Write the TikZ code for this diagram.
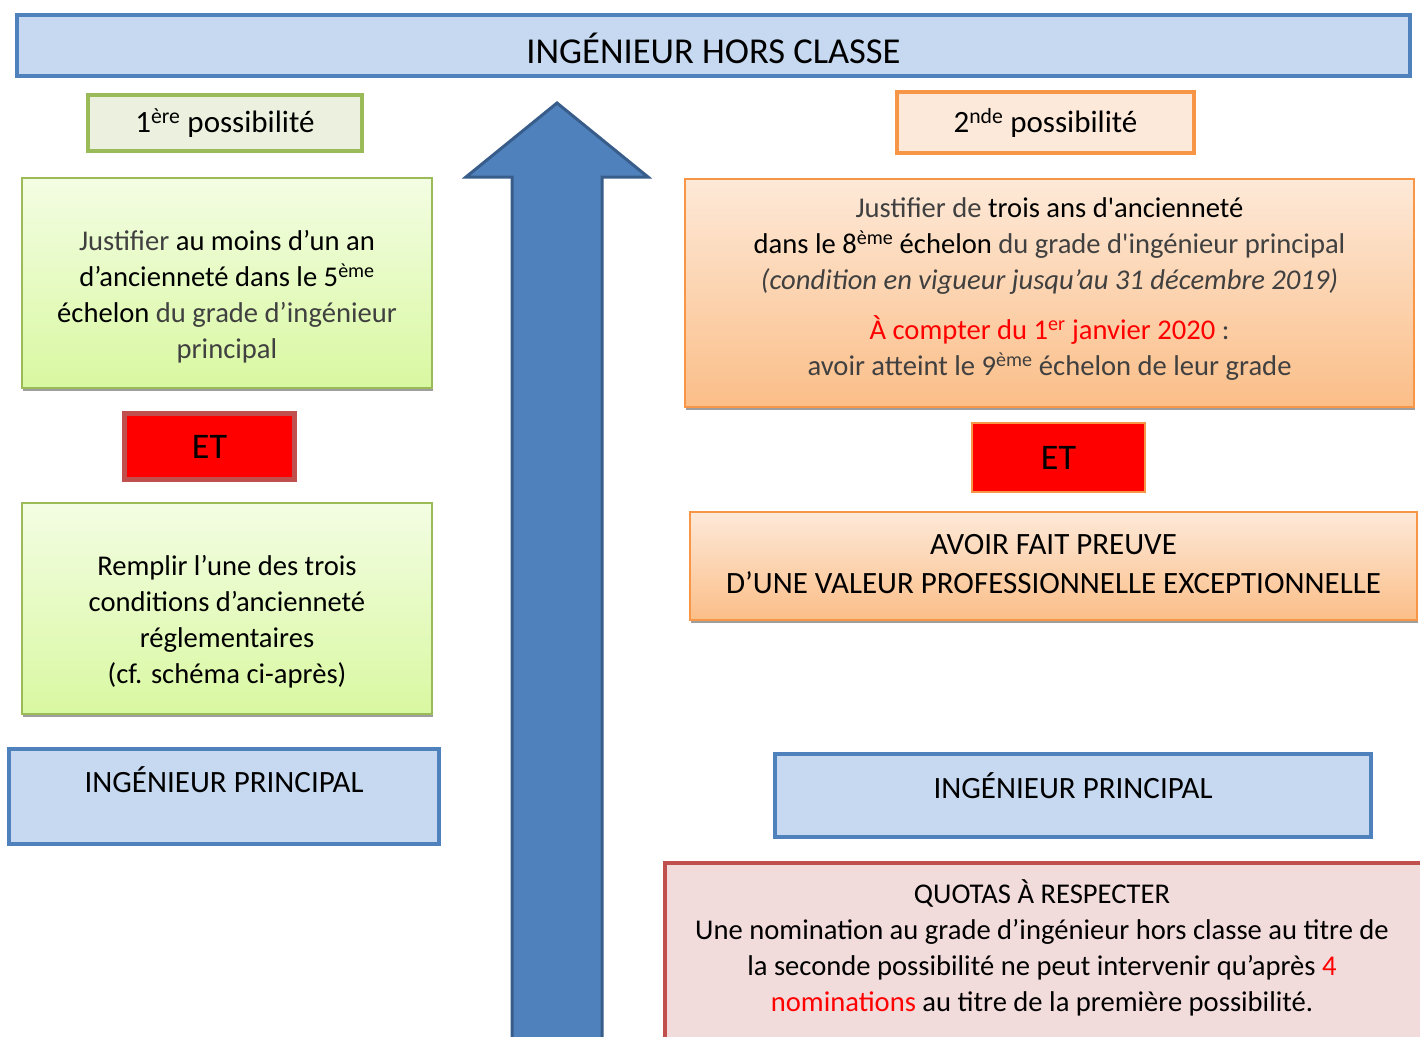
\documentclass[tikz,border=0pt]{standalone}
\usepackage{fontspec}
\setmainfont{Carlito}[Ligatures=TeXOff]
\usetikzlibrary{shadows}
\definecolor{hcblue}{HTML}{4F81BD}
\definecolor{hcfill}{HTML}{C6D9F1}
\definecolor{grn}{HTML}{9BBB59}
\definecolor{grnfill}{HTML}{EBF1DE}
\definecolor{org}{HTML}{F79646}
\definecolor{orgfill}{HTML}{FDE9D9}
\definecolor{redb}{HTML}{C0504D}
\definecolor{pinkfill}{HTML}{F2DCDB}
\definecolor{arrowedge}{HTML}{385D8A}
\definecolor{lgtop}{HTML}{F3FDE3}
\definecolor{lgbot}{HTML}{D9F8A1}
\definecolor{ogtop}{HTML}{FDE9D8}
\definecolor{ogbot}{HTML}{FBBE88}
\definecolor{lighttxt}{HTML}{404040}
\newcommand{\lt}[1]{{\color{lighttxt}#1}}
\begin{document}
\begin{tikzpicture}[x=1pt,y=-1pt,
  box/.style={rectangle, inner sep=0pt, align=center},
  bluebox/.style={box, draw=hcblue, fill=hcfill, line width=4pt},
  titlefont/.style={font=\fontsize{31}{37}\selectfont},
  bodyfont/.style={font=\fontsize{28.6}{36}\selectfont},
  shad/.style={drop shadow={shadow xshift=1pt, shadow yshift=-3pt, fill=black!38, opacity=1}},
  greenbox/.style={box, draw=grn, line width=1.5pt, top color=lgtop, bottom color=lgbot, shad},
  orangebox/.style={box, draw=org, line width=1.5pt, top color=ogtop, bottom color=ogbot, shad},
  etbox/.style={box, fill=red, font=\fontsize{36}{40}\selectfont}
]
\useasboundingbox (0,0) rectangle (1420,1036);

% top
\node[bluebox, minimum width=1393pt, minimum height=61pt] (top) at (713.5,45.5) {};
\node[box, font=\fontsize{36.5}{40}\selectfont] (topt) at (713.5,48.5) {INGÉNIEUR HORS CLASSE};

% possibilities
\node[box, draw=grn, fill=grnfill, line width=4pt, minimum width=274pt, minimum height=56pt, titlefont] (p1) at (225,123) {1\textsuperscript{ère} possibilité};
\node[box, draw=org, fill=orgfill, line width=4pt, minimum width=297pt, minimum height=61pt, titlefont] (p2) at (1045.5,122.5) {2\textsuperscript{nde} possibilité};

% left column
\node[greenbox, minimum width=410pt, minimum height=210pt] (g1) at (227,283) {};
\node[box, bodyfont] (g1t) at (227,297)
  {\lt{Justifier} au moins d’un an\\ d’ancienneté dans le 5\textsuperscript{ème}\\ échelon \lt{du grade d’ingénieur}\\ \lt{principal}};
\node[etbox, draw=redb, line width=5pt, minimum width=170pt, minimum height=66pt] (etL) at (209.5,446.5) {ET};
\node[greenbox, minimum width=410pt, minimum height=211pt] (g2) at (227,608.5) {};
\node[box, bodyfont] (g2t) at (227,622)
  {Remplir l’une des trois\\ conditions d’ancienneté\\ réglementaires\\ (cf. schéma ci-après)};
\node[bluebox, minimum width=430pt, minimum height=95pt] (ipL) at (224,796.5) {};
\node[box, titlefont] (ipLt) at (224,780) {INGÉNIEUR PRINCIPAL};

% right column
\node[orangebox, minimum width=729pt, minimum height=228pt] (o1) at (1049.5,293) {};
\node[box, bodyfont] (o1t) at (1049.5,289)
  {\lt{Justifier de} trois ans d'ancienneté\\
   dans le 8\textsuperscript{ème} échelon \lt{du grade d'ingénieur principal}\\
   \lt{\itshape (condition en vigueur jusqu’au 31 décembre 2019)}\\[14pt]
   {\color{red}À compter du 1\textsuperscript{er} janvier 2020} \lt{:}\\
   \lt{avoir atteint le 9\textsuperscript{ème} échelon de leur grade}};
\node[etbox, draw=org, line width=2pt, minimum width=173pt, minimum height=69pt] (etR) at (1058.5,457.5) {ET};
\node[orangebox, minimum width=727pt, minimum height=108pt] (av) at (1053.5,566) {};
\node[box, font=\fontsize{31}{39}\selectfont] (avt) at (1053.5,564)
  {AVOIR FAIT PREUVE\\ D’UNE VALEUR PROFESSIONNELLE EXCEPTIONNELLE};
\node[bluebox, minimum width=596pt, minimum height=83pt] (ipR) at (1073,795.5) {};
\node[box, titlefont] (ipRt) at (1073,786) {INGÉNIEUR PRINCIPAL};

% quotas
\node[box, draw=redb, fill=pinkfill, line width=4pt, minimum width=759pt, minimum height=182pt] (q) at (1044.5,954) {};
\node[box, bodyfont] (qt) at (1042,948)
  {QUOTAS À RESPECTER\\
   Une nomination au grade d’ingénieur hors classe au titre de\\
   la seconde possibilité ne peut intervenir qu’après {\color{red}4}\\
   {\color{red}nominations} au titre de la première possibilité.};

% big arrow
\draw[fill=hcblue, draw=arrowedge, line width=3pt, line join=miter]
  (512,1045) -- (512,177) -- (466,177) -- (557,103) -- (648,177) -- (602,177) -- (602,1045) -- cycle;
\end{tikzpicture}
\end{document}
